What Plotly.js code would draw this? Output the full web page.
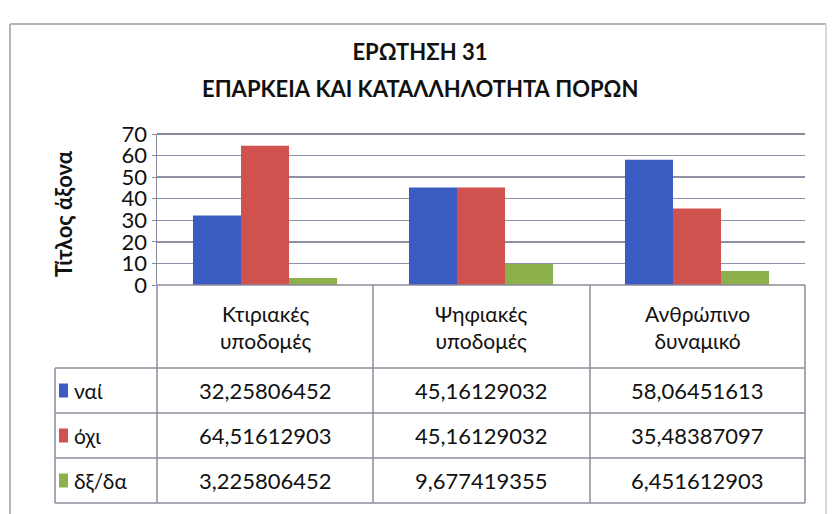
<!DOCTYPE html>
<html>
<head>
<meta charset="utf-8">
<script src="https://cdn.plot.ly/plotly-3.0.1.min.js"></script>
<style>html,body{margin:0;padding:0;background:#fff;}#chart{width:832px;height:514px;}</style>
</head>
<body>
<div id="chart"></div>
<script>
// ---- data ----
var categories = ['Κτιριακές υποδομές', 'Ψηφιακές υποδομές', 'Ανθρώπινο δυναμικό'];
var seriesNames = ['ναί', 'όχι', 'δξ/δα'];
var valuesNai = [32.25806452, 45.16129032, 58.06451613];
var valuesOxi = [64.51612903, 45.16129032, 35.48387097];
var valuesDxda = [3.225806452, 9.677419355, 6.451612903];
var yTicks = [0, 10, 20, 30, 40, 50, 60, 70];
var titleLine1 = 'ΕΡΩΤΗΣΗ 31';
var titleLine2 = 'ΕΠΑΡΚΕΙΑ ΚΑΙ ΚΑΤΑΛΛΗΛΟΤΗΤΑ ΠΟΡΩΝ';
var yAxisTitle = 'Τίτλος άξονα';

var colors = ['#3a5cc2', '#cf524e', '#8bb04c'];
var allValues = [valuesNai, valuesOxi, valuesDxda];
var FONT = 'Lato, "Noto Sans", sans-serif';

// layout geometry (pixels)
var W = 832, H = 514;
var L = 157, R = 805, T = 134, B = 285;
function px(x) { return (x - L) / (R - L); }
function py(y) { return (B - y) / (B - T); }

var traces = allValues.map(function (vals, i) {
  return {
    type: 'bar', x: categories, y: vals, name: seriesNames[i],
    marker: { color: colors[i], line: { width: 0 } },
    hoverinfo: 'none'
  };
});

var gridCol = '#8f8fa6';
var tableCol = '#8c8c9c';
var shapes = [];
function line(x0, y0, x1, y1, c, w) {
  shapes.push({ type: 'line', xref: 'paper', yref: 'paper', x0: px(x0), y0: py(y0), x1: px(x1), y1: py(y1),
    line: { color: c || tableCol, width: w || 1.5 }, layer: 'above' });
}
// chart frame
line(10, 24, 826, 24, '#b4b4bc', 2);
line(10, 24, 10, 514, '#b4b4bc', 2);
line(826, 24, 826, 514, '#d8d8dc', 2);
// plot top border
line(L, T, R, T, '#8a8a9c', 2);
// table
var colX = [L, 373, 590, R];
var rowY = [368, 413, 458, 503];
line(L, B, R, B, tableCol, 1.5);
rowY.forEach(function (y) { line(55, y, R, y); });
line(55, 368, 55, 503);
colX.forEach(function (x) { line(x, B, x, 503); });

var annotations = [];
annotations.push({ xref: 'paper', yref: 'paper', x: (420 - L) / (R - L), y: py(88), text: '<b>' + titleLine2 + '</b>', showarrow: false,
  font: { family: FONT, size: 22, color: '#111' }, xanchor: 'center', yanchor: 'middle' });
annotations.push({ xref: 'paper', yref: 'paper', x: px(63), y: py(214), text: '<b>' + yAxisTitle + '</b>', showarrow: false, textangle: -90,
  font: { family: FONT, size: 22, color: '#111' }, xanchor: 'center', yanchor: 'middle' });
// header cells
categories.forEach(function (c, j) {
  var words = c.split(' ');
  annotations.push({ xref: 'paper', yref: 'paper', x: px((colX[j] + colX[j + 1]) / 2), y: py(327),
    text: words.join('<br>'), showarrow: false, font: { family: FONT, size: 21, color: '#111' },
    xanchor: 'center', yanchor: 'middle' });
});
// value rows
allValues.forEach(function (vals, i) {
  var yc = (rowY[i] + rowY[i + 1]) / 2;
  shapes.push({ type: 'rect', xref: 'paper', yref: 'paper', x0: px(59), x1: px(68), y0: py(yc - 7), y1: py(yc + 7),
    fillcolor: colors[i], line: { width: 0 } });
  annotations.push({ xref: 'paper', yref: 'paper', x: px(72), y: py(yc), text: seriesNames[i], showarrow: false,
    font: { family: FONT, size: 21, color: '#111' }, xanchor: 'left', yanchor: 'middle' });
  vals.forEach(function (v, j) {
    annotations.push({ xref: 'paper', yref: 'paper', x: px((colX[j] + colX[j + 1]) / 2), y: py(yc),
      text: String(v).replace('.', ','), showarrow: false, font: { family: FONT, size: 22, color: '#111' },
      xanchor: 'center', yanchor: 'middle' });
  });
});

var layout = {
  width: W, height: H, autosize: false,
  margin: { l: L, r: W - R, t: T, b: H - B, pad: 0 },
  paper_bgcolor: '#ffffff', plot_bgcolor: '#ffffff',
  showlegend: false,
  barmode: 'group', bargap: 0.333, bargroupgap: 0,
  title: { text: '<b>' + titleLine1 + '</b>', font: { family: FONT, size: 22, color: '#111' },
    x: 420 / W, xref: 'container', xanchor: 'center', y: 1 - 52 / H, yref: 'container', yanchor: 'middle' },
  xaxis: { showticklabels: false, showgrid: false, zeroline: false, showline: false, ticks: '', fixedrange: true },
  yaxis: { range: [0, 70], tickvals: yTicks, ticktext: yTicks.map(String), showgrid: true, gridcolor: gridCol, gridwidth: 1.5,
    zeroline: false, showline: true, linecolor: '#8a8a9c', linewidth: 1.5, ticks: 'outside', ticklen: 4, tickcolor: '#8a8a9c',
    tickfont: { family: FONT, size: 22, color: '#111' }, fixedrange: true },
  shapes: shapes,
  annotations: annotations
};

Plotly.newPlot('chart', traces, layout, { staticPlot: true, displayModeBar: false });
</script>
</body>
</html>
